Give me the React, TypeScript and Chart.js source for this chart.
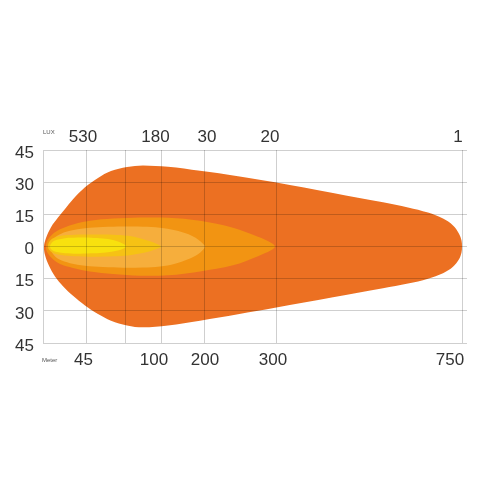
import React, { useEffect, useRef } from "react";
import { Chart, registerables } from "chart.js";

Chart.register(...registerables);

// ---- data ----
// horizontal position units along the beam axis (0 = lamp)
const GRID_X = [43, 82, 118, 161, 233, 419];
const METER_LABELS = ["45", "", "100", "200", "300", "750"];
const LUX_LABELS = ["530", "", "180", "30", "20", "1"];
const X_MAX = 424;
const Y_MIN = -45;
const Y_MAX = 45;
const Y_STEP = 15;

// beam outlines: [position, lateral meters]
const BEAM_1LUX: [number, number][] = [
  [100, 37.8], [125, 37.2], [157, 35.3], [195, 32.8], [232, 30], [290, 25], [340, 20.6],
  [365, 18.2], [385, 15.8], [400, 13], [410, 9.8], [416, 6], [418.5, 2.8], [419, 0],
  [418.5, -2.8], [416, -6], [410, -9.5], [400, -12.5], [385, -15], [365, -17.3],
  [340, -19.5], [290, -23.7], [232, -28.6], [195, -31.6], [157, -34.6], [125, -36.8],
  [100, -37.7], [84, -36.8], [68, -34.6], [55, -31.5], [42, -27.5], [30, -23], [20, -18.5],
  [12, -14], [6, -9], [2, -4], [1, 0], [3, 4], [8, 9], [15, 13.5], [22, 17.5], [30, 22],
  [42, 27.6], [55, 32], [68, 35.2], [84, 37.1], [100, 37.8],
];
const BEAM_20LUX: [number, number][] = [
  [97, 13.5], [125, 13.4], [157, 12], [190, 8.8], [215, 4.6], [228, 1.8], [232, 0],
  [228, -1.8], [215, -4.5], [190, -8.8], [157, -11.6], [125, -13.4], [97, -13.6], [70, -12.8],
  [47, -11.6], [30, -10], [17, -8.2], [9, -5.5], [4, -2.5], [3, 0], [4, 2.5], [9, 5.5],
  [17, 8], [30, 10.3], [47, 12], [70, 13], [97, 13.5],
];
const BEAM_30LUX: [number, number][] = [
  [80, 9.3], [100, 9.2], [117, 8.8], [132, 7.6], [145, 5.8], [155, 3.3], [160, 1.3], [162, 0],
  [160, -1.5], [155, -3.6], [145, -6], [132, -8], [117, -9.3], [100, -9.8], [80, -9.9],
  [60, -9.6], [42, -9], [27, -7.8], [16, -6], [10, -3.5], [7, 0], [10, 3.3], [16, 5.5],
  [27, 7.3], [42, 8.5], [60, 9.1], [80, 9.3],
];
const BEAM_180LUX: [number, number][] = [
  [50, 5.6], [70, 5.5], [85, 5], [97, 3.9], [107, 2.5], [114, 1.2], [118, 0], [114, -1.1],
  [107, -2.2], [97, -3.3], [85, -4.2], [70, -4.6], [50, -4.8], [32, -4.6], [18, -4], [10, -3],
  [6, -1.5], [5, 0], [6, 2], [10, 3.8], [18, 5], [32, 5.5], [50, 5.6],
];
const BEAM_530LUX: [number, number][] = [
  [34, 4.2], [48, 4.1], [60, 3.7], [70, 3.0], [77, 2.0], [81, 1], [83, 0], [81, -0.8],
  [77, -1.6], [70, -2.3], [60, -2.9], [48, -3.2], [34, -3.4], [22, -3.2], [14, -2.6],
  [9, -1.6], [7, 0], [9, 1.9], [14, 3.1], [22, 3.9], [34, 4.2],
];

// ---- styles ----
const COLORS = ["#F8E10E", "#F6C214", "#F6AE3C", "#F29412", "#EC7022"];
const GRID_COLOR = "rgba(0,0,0,0.19)";
const FONT = "'Liberation Sans', Arial, sans-serif";
const METER_NUDGE = [-2.5, 0, -7, 1, -3, -12];
const LUX_NUDGE = [-3, 0, -5.5, 3, -6, -4];

export default function App() {
  const ref = useRef<HTMLCanvasElement | null>(null);

  useEffect(() => {
    document.body.style.margin = "0";
    const canvas = ref.current;
    if (!canvas) return;
    const shapes = [BEAM_530LUX, BEAM_180LUX, BEAM_30LUX, BEAM_20LUX, BEAM_1LUX];

    const smallText = {
      id: "smallText",
      afterDraw(chart: any) {
        const { ctx, chartArea } = chart;
        ctx.save();
        ctx.fillStyle = "#555";
        ctx.font = `6px ${FONT}`;
        ctx.textAlign = "left";
        ctx.textBaseline = "middle";
        ctx.fillText("LUX", chartArea.left, chartArea.top - 18);
        ctx.fillText("Meter", chartArea.left - 1, chartArea.bottom + 17);
        ctx.restore();
      },
    };

    const tickFont = { family: FONT, size: 17 };

    const chart = new Chart(canvas, {
      type: "line",
      data: {
        datasets: shapes.map((s, i) => ({
          data: s.map(([x, y]) => ({ x, y })),
          backgroundColor: COLORS[i],
          borderColor: COLORS[i],
          borderWidth: 0,
          pointRadius: 0,
          fill: "shape",
          tension: 0.35,
          xAxisID: "x",
          yAxisID: "y",
        })),
      },
      options: {
        animation: false,
        responsive: false,
        events: [],
        layout: { padding: { left: 0, right: 30, top: 120, bottom: 124 }, autoPadding: false },
        elements: { line: { capBezierPoints: false } },
        plugins: { legend: { display: false }, tooltip: { enabled: false } },
        scales: {
          x: {
            type: "linear",
            position: "bottom",
            min: 0,
            max: X_MAX,
            z: 1,
            afterBuildTicks: (s: any) => { s.ticks = GRID_X.map((v) => ({ value: v })); },
            afterFit: (s: any) => { s.height = 0; },
            ticks: { display: false },
            grid: { color: GRID_COLOR, drawTicks: false, z: 1 },
            border: { display: false },
          },
          xb: {
            type: "linear",
            position: "bottom",
            min: 0,
            max: X_MAX,
            afterBuildTicks: (s: any) => { s.ticks = GRID_X.map((v, i) => ({ value: v + METER_NUDGE[i] })); },
            afterFit: (s: any) => { s.height = 30; },
            ticks: {
              autoSkip: false,
              maxRotation: 0,
              padding: 7,
              color: "#333",
              font: tickFont,
              callback: (_v: any, i: number) => METER_LABELS[i],
            },
            grid: { display: false, drawTicks: false },
            border: { display: false },
          },
          xt: {
            type: "linear",
            position: "top",
            min: 0,
            max: X_MAX,
            afterBuildTicks: (s: any) => { s.ticks = GRID_X.map((v, i) => ({ value: v + LUX_NUDGE[i] })); },
            afterFit: (s: any) => { s.height = 30; },
            ticks: {
              autoSkip: false,
              maxRotation: 0,
              padding: 2,
              color: "#333",
              font: tickFont,
              callback: (_v: any, i: number) => LUX_LABELS[i],
            },
            grid: { display: false, drawTicks: false },
            border: { display: false },
          },
          y: {
            type: "linear",
            position: "left",
            min: Y_MIN,
            max: Y_MAX,
            z: 1,
            afterFit: (s: any) => { s.width = 43; },
            ticks: {
              stepSize: Y_STEP,
              padding: 9,
              labelOffset: 3,
              color: "#333",
              font: tickFont,
              callback: (v: any) => String(Math.abs(Number(v))),
            },
            grid: { color: GRID_COLOR, drawTicks: false, z: 1 },
            border: { color: GRID_COLOR, z: 1 },
          },
        },
      },
      plugins: [smallText],
    } as any);

    return () => chart.destroy();
  }, []);

  return (
    <div style={{ width: 497, height: 497 }}>
      <canvas ref={ref} width={497} height={497} />
    </div>
  );
}
